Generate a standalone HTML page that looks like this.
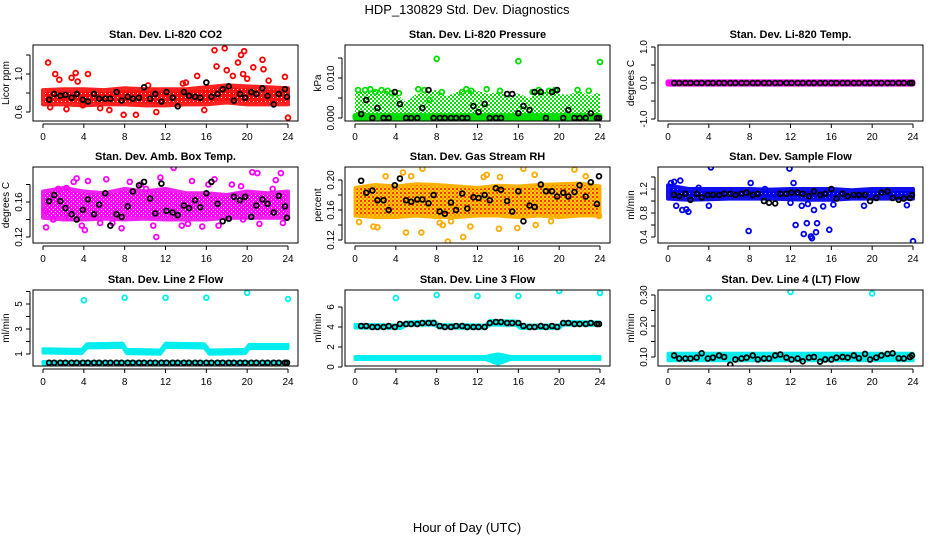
<!DOCTYPE html>
<html><head><meta charset="utf-8"><style>
html,body{margin:0;padding:0;background:#fff;}
svg{display:block;font-family:"Liberation Sans",Arial,sans-serif;}
</style></head><body>
<svg id="chart" width="936" height="540" viewBox="0 0 936 540" xmlns="http://www.w3.org/2000/svg">
<defs>
<pattern id="pat-red" width="4" height="4" patternUnits="userSpaceOnUse"><rect width="4" height="4" fill="#ff1010"/><rect x="1" y="1" width="1" height="1" fill="#fff"/></pattern>
<pattern id="pat-green" width="4" height="4" patternUnits="userSpaceOnUse"><rect width="4" height="4" fill="#fff"/><rect width="2" height="2" fill="#00dd00"/><rect x="2" y="2" width="2" height="2" fill="#00dd00"/></pattern>
<pattern id="pat-mag" width="4" height="4" patternUnits="userSpaceOnUse"><rect width="4" height="4" fill="#ff00ff"/><rect x="1" y="1" width="1" height="1" fill="#fff"/><rect x="3" y="3" width="1" height="1" fill="#fff"/></pattern>
<pattern id="pat-rh" width="4" height="4" patternUnits="userSpaceOnUse"><rect width="4" height="4" fill="#ffcc00"/><rect width="2" height="2" fill="#ff3300"/><rect x="2" y="2" width="2" height="2" fill="#ff9900"/></pattern>
<pattern id="pat-blue" width="4" height="4" patternUnits="userSpaceOnUse"><rect width="4" height="4" fill="#0000ee"/><rect x="1" y="1" width="1" height="1" fill="#8888ff"/></pattern>
</defs>
<rect x="0" y="0" width="936" height="540" fill="#fff"/>
<text x="467" y="14" text-anchor="middle" font-size="13">HDP_130829  Std. Dev. Diagnostics</text>
<text x="467" y="532" text-anchor="middle" font-size="13">Hour of Day (UTC)</text>
</svg>
<script>
const blackHours=[0.6,1.1,1.7,2.2,2.8,3.3,3.9,4.4,5.0,5.5,6.1,6.6,7.2,7.7,8.3,8.8,9.4,9.9,10.5,11.0,11.6,12.1,12.7,13.2,13.8,14.3,14.9,15.4,16.0,16.5,17.1,17.6,18.2,18.7,19.3,19.8,20.4,20.9,21.5,22.0,22.6,23.1,23.7,23.9];
const xTicks=[0,4,8,12,16,20,24];

const co2BandHours=[0,2,4,6,8,10,12,14,16,18,20,22,24];
const co2BandLo=[0.68,0.68,0.67,0.68,0.68,0.67,0.67,0.68,0.68,0.70,0.68,0.68,0.68];
const co2BandHi=[0.83,0.84,0.84,0.83,0.85,0.84,0.84,0.84,0.86,0.88,0.87,0.86,0.85];
const co2OutHours=[0.5,0.7,1.2,1.6,2.3,2.8,3.2,3.9,4.4,6.5,7.9,9.1,11.1,13.7,15.1,15.8,16.8,17.0,17.8,18.0,18.6,19.1,19.4,19.6,19.7,20.0,20.6,21.5,21.6,22.1,23.7,24.0,5.6,10.3,3.4,14.0];
const co2OutVals=[1.12,0.65,1.0,0.94,0.63,0.96,1.01,0.67,1.0,0.62,0.57,0.57,0.6,0.9,0.98,0.62,1.25,1.08,1.27,1.04,0.98,1.12,1.2,1.0,1.24,0.95,1.07,1.15,1.05,0.93,0.97,0.54,0.64,0.88,0.92,0.91];
const co2Black=[.73,.79,.77,.78,.75,.79,.73,.71,.79,.74,.74,.74,.81,.72,.76,.74,.75,.86,.74,.79,.71,.81,.75,.66,.81,.77,.76,.75,.91,.76,.79,.84,.87,.72,.79,.75,.81,.79,.85,.77,.68,.79,.84,.76];

const presBandHours=[0,24];
const presBandLo=[0,0];
const presBandHi=[0.0006,0.0006];
const presCloudHours=[0,2,3,4,5,6,7,8,9,10,11,12,13,14,15,16,17,18,19,20,21,22,23,24];
const presCloudLo=[0,0,0,0,0,0,0,0,0,0,0,0,0,0,0,0,0,0,0,0,0,0,0,0];
const presCloudHi=[0.0065,0.007,0.0068,0.0062,0.004,0.006,0.0068,0.007,0.0055,0.0065,0.007,0.0068,0.006,0.0065,0.0055,0.0062,0.005,0.0065,0.0068,0.006,0.0058,0.0068,0.0055,0.0065];
const presOutHours=[8.0,16.0,24.0,0.3,1.0,1.5,2.0,2.6,3.2,3.6,4.3,6.2,6.8,7.3,8.5,10.5,10.9,11.4,12.9,14.2,17.4,18.0,19.0,19.6,21.8,22.9];
const presOutVals=[0.0148,0.0142,0.0140,0.0070,0.0070,0.0072,0.0065,0.0070,0.0068,0.0062,0.0062,0.0072,0.0070,0.0045,0.0065,0.0065,0.0072,0.0068,0.0072,0.0068,0.0065,0.0070,0.0068,0.0070,0.0070,0.0068];
const presBlack=[0.001,0.0045,0,0.0025,0,0,0.0065,0.0035,0,0,0,0.0025,0.007,0,0,0,0,0,0,0,0.003,0.0015,0.0035,0,0,0,0.006,0.006,0.0012,0.003,0.002,0.0065,0.0065,0,0.0065,0.007,0,0.002,0,0,0,0.0012,0,0];

const tempBandHours=[0,24];
const tempBandLo=[-0.03,-0.03];
const tempBandHi=[0.03,0.03];
const tempOutHours=[];
const tempOutVals=[];
const tempBlack=[0,0,0,0,0,0,0,0,0,0,0,0,0,0,0,0,0,0,0,0,0,0,0,0,0,0,0,0,0,0,0,0,0,0,0,0,0,0,0,0,0,0,0,0];

const ambBandHours=[0,2,4,6,8,10,12,14,16,18,20,22,24];
const ambBandLo=[.142,.140,.140,.141,.140,.141,.140,.140,.140,.142,.142,.142,.142];
const ambBandHi=[.172,.176,.172,.170,.175,.172,.175,.170,.170,.168,.172,.170,.172];
const ambOutHours=[0.2,0.3,1.0,1.5,2.3,2.5,3.0,3.3,3.8,4.1,4.4,5.6,6.2,6.8,7.7,8.5,9.0,9.6,10.1,10.8,11.1,11.5,12.8,13.6,14.2,14.6,15.6,16.2,16.8,17.2,18.5,19.4,19.6,20.5,21.0,21.2,22.5,22.8,23.3,23.5];
const ambOutVals=[0.15,0.131,0.14,0.175,0.176,0.142,0.183,0.187,0.133,0.128,0.184,0.136,0.186,0.136,0.13,0.183,0.108,0.18,0.175,0.133,0.12,0.188,0.199,0.133,0.135,0.184,0.132,0.180,0.186,0.133,0.18,0.178,0.14,0.194,0.193,0.135,0.175,0.185,0.193,0.136];
const ambBlack=[.161,.168,.161,.153,.146,.140,.151,.163,.146,.157,.170,.133,.146,.143,.155,.172,.179,.183,.164,.147,.181,.150,.148,.145,.156,.153,.162,.154,.170,.183,.158,.138,.141,.166,.162,.166,.143,.156,.163,.158,.148,.167,.155,.142];

const rhBandHours=[0,2,4,6,8,10,12,14,16,18,20,22,24];
const rhBandLo=[.152,.150,.150,.152,.150,.150,.152,.152,.150,.152,.150,.152,.152];
const rhBandHi=[.190,.194,.192,.195,.194,.192,.190,.193,.192,.194,.195,.196,.192];
const rhOutHours=[0.4,1.8,2.2,3.0,4.7,5.0,5.5,6.5,6.6,8.3,9.1,9.4,10.6,11.3,12.6,14.1,14.2,15.9,16.5,17.6,17.7,19.2,21.5,22.6,23.9,12.9,8.6];
const rhOutVals=[.144,.138,.137,.205,.21,.13,.205,.13,.215,.143,.118,.145,.124,.138,.204,.135,.204,.136,.215,.207,.14,.145,.214,.205,.152,.207,.14];
const rhBlack=[.199,.183,.186,.173,.173,.160,.193,.202,.173,.171,.174,.174,.169,.180,.158,.155,.170,.160,.182,.162,.177,.176,.180,.173,.189,.187,.172,.158,.185,.145,.166,.164,.194,.185,.185,.178,.183,.178,.184,.193,.178,.197,.168,.205];

const sfBandHours=[0,2,4,6,8,10,12,14,16,18,20,22,24];
const sfBandLo=[1.04,1.02,1.03,1.04,1.04,1.04,1.03,1.02,1.02,1.04,1.04,1.04,1.04];
const sfBandHi=[1.26,1.20,1.20,1.20,1.20,1.19,1.20,1.20,1.20,1.18,1.20,1.20,1.20];
const sfOutHours=[0.3,0.6,0.8,1.2,1.4,1.8,2.0,4.0,4.2,7.9,8.1,11.9,12.0,12.3,12.5,13.1,13.3,13.6,13.7,14.0,14.1,14.3,14.5,14.6,15.2,15.8,16.2,19.2,23.4,24.0,3.0,9.5];
const sfOutVals=[1.3,1.32,0.92,1.34,0.85,0.86,0.82,0.92,1.56,0.5,1.3,1.54,0.97,1.3,0.6,0.92,0.45,0.63,0.95,0.41,0.38,0.85,0.48,0.63,0.91,0.52,0.94,0.92,0.93,0.33,1.22,1.2];
const sfBlack=[1.10,1.08,1.12,1.02,1.12,1.06,1.10,1.10,1.10,1.12,1.12,1.10,1.12,1.14,1.10,1.12,1.00,0.97,0.96,1.12,1.12,1.14,1.14,1.12,1.08,1.16,1.10,1.12,1.20,1.04,1.12,1.08,1.10,1.10,1.10,1.00,1.05,1.14,1.16,1.05,1.02,1.04,1.05,1.10];

const l2BandHours=[0,3.8,4.3,7.8,8.2,11.5,12,15.8,16.3,19.8,20.2,24];
const l2BandLo=[1.08,1.03,1.48,1.53,1.03,0.98,1.53,1.48,0.98,1.03,1.43,1.43];
const l2BandHi=[1.42,1.37,1.82,1.87,1.37,1.32,1.87,1.82,1.32,1.37,1.77,1.77];
const l2LowHours=[0,24];
const l2LowLo=[0.2,0.2];
const l2LowHi=[0.4,0.4];
const l2OutHours=[4,8,12,16,20,24];
const l2OutVals=[5.3,5.5,5.5,5.5,5.9,5.4];
const l2Black=[0.3,0.3,0.3,0.3,0.3,0.3,0.3,0.3,0.3,0.3,0.3,0.3,0.3,0.3,0.3,0.3,0.3,0.3,0.3,0.3,0.3,0.3,0.3,0.3,0.3,0.3,0.3,0.3,0.3,0.3,0.3,0.3,0.3,0.3,0.3,0.3,0.3,0.3,0.3,0.3,0.3,0.3,0.3,0.3];

const l3BandHours=[0,4.5,5,7.8,8.2,12.8,13.2,15.8,16.2,20,20.4,24];
const l3BandLo=[3.9,3.85,4.15,4.2,3.9,3.85,4.2,4.15,3.85,3.85,4.2,4.15];
const l3BandHi=[4.25,4.2,4.5,4.6,4.25,4.2,4.65,4.6,4.2,4.2,4.55,4.5];
const l3LowHours=[0,12.8,13.4,14.0,14.6,15.2,24];
const l3LowLo=[0.75,0.75,0.5,0.3,0.5,0.75,0.75];
const l3LowHi=[1.05,1.05,1.2,1.3,1.2,1.05,1.05];
const l3OutHours=[4,8,12,16,20,24];
const l3OutVals=[6.9,7.2,7.1,7.1,7.6,7.4];
const l3Black=[4.1,4.1,4.0,4.0,4.0,4.1,4.0,4.3,4.3,4.3,4.3,4.4,4.4,4.4,4.1,4.0,4.0,4.1,4.1,4.0,4.0,4.0,4.0,4.4,4.5,4.5,4.4,4.4,4.4,4.1,4.0,4.0,4.1,4.0,4.1,4.0,4.4,4.4,4.3,4.3,4.3,4.4,4.3,4.3];

const l4BandHours=[0,24];
const l4BandLo=[0.088,0.088];
const l4BandHi=[0.112,0.112];
const l4OutHours=[4,12,20];
const l4OutVals=[0.29,0.31,0.305];
const l4Black=[.105,.095,.095,.095,.098,.112,.095,.098,.105,.100,.075,.092,.095,.098,.105,.092,.095,.095,.105,.108,.098,.092,.095,.086,.098,.100,.085,.092,.092,.098,.100,.098,.105,.096,.110,.092,.098,.105,.110,.112,.096,.095,.100,.105];

const NS="http://www.w3.org/2000/svg";
const svg=document.getElementById('chart');
function mk(tag,attrs,parent){const e=document.createElementNS(NS,tag);for(const k in attrs)e.setAttribute(k,attrs[k]);(parent||svg).appendChild(e);return e;}

function panel(p){
  const g=mk('g',{});
  
  
  const L=p.left,R=p.left+265,T=p.top,B=p.top+76;
  const xs=h=>L+10+h*(245/24);
  const ys=v=>p.y0px+(v-p.y0)*(p.y1px-p.y0px)/(p.y1-p.y0);
  const t=mk('text',{x:(L+R)/2,y:T-7,'text-anchor':'middle','font-size':11,'font-weight':'bold'},g);
  t.textContent=p.title;
  
  
  const clip='clip-'+p.name;
  const cp=mk('clipPath',{id:clip},g);mk('rect',{x:L,y:T,width:265,height:76},cp);
  const pg=mk('g',{'clip-path':'url(#'+clip+')'},g);
  p.bands.forEach(b=>{
    let pts=[];
    for(let i=0;i<b.h.length;i++)pts.push(xs(b.h[i])+','+ys(b.hi[i]));
    for(let i=b.h.length-1;i>=0;i--)pts.push(xs(b.h[i])+','+ys(b.lo[i]));
    const poly=mk('polygon',{points:pts.join(' '),fill:b.fill,stroke:b.stroke,'stroke-width':b.sw||5,'stroke-linejoin':'round'},pg);
    
    
  });
  for(let i=0;i<p.outH.length;i++){
    const c=mk('circle',{cx:xs(p.outH[i]),cy:ys(p.outV[i]),r:2.4,fill:'none',stroke:p.color,'stroke-width':1.8},pg);
    
    
  }
  const n=Math.min(blackHours.length,p.black.length);
  for(let i=0;i<n;i++){
    const c=mk('circle',{cx:xs(blackHours[i]),cy:ys(p.black[i]),r:2.4,fill:'none',stroke:'#000','stroke-width':1.8},pg);
    
    
  }
  const box=mk('rect',{x:L,y:T,width:265,height:76,fill:'none',stroke:'#000','stroke-width':1},g);
  
  
  mk('line',{x1:xs(0),x2:xs(24),y1:B+3,y2:B+3,stroke:'#000'},g);
  xTicks.forEach(v=>{
    mk('line',{x1:xs(v),x2:xs(v),y1:B+3,y2:B+7,stroke:'#000'},g);
    const tl=mk('text',{x:xs(v),y:B+19,'text-anchor':'middle','font-size':10},g);
    tl.textContent=v;
    
    
  });
  const yt=p.yTicks;
  mk('line',{x1:L-3,x2:L-3,y1:ys(yt[0]),y2:ys(yt[yt.length-1]),stroke:'#000'},g);
  yt.forEach(v=>{
    mk('line',{x1:L-7,x2:L-3,y1:ys(v),y2:ys(v),stroke:'#000'},g);
  });
  p.yLabels.forEach(v=>{
    const yy=ys(v);
    const tl=mk('text',{x:L-11,y:yy,'text-anchor':'middle','font-size':10,transform:'rotate(-90 '+(L-11)+' '+yy+')'},g);
    tl.textContent=p.fmt(v);
    
    
  });
  const cy=(T+B)/2;
  const yl=mk('text',{x:L-24,y:cy,'text-anchor':'middle','font-size':10,transform:'rotate(-90 '+(L-24)+' '+cy+')'},g);
  yl.textContent=p.ylab;
  
  
}
const f1=v=>v.toFixed(1),f2=v=>v.toFixed(2),f3=v=>v.toFixed(3),f0=v=>String(v);
panel({name:'panel-co2',title:'Stan. Dev. Li-820 CO2',left:33,top:45,ylab:'Licor ppm',y0:0.6,y0px:112,y1:1.0,y1px:74,yTicks:[0.6,0.8,1.0,1.2],yLabels:[0.6,1.0],fmt:f1,color:'#ff0000',
 bands:[{h:co2BandHours,lo:co2BandLo,hi:co2BandHi,fill:'url(#pat-red)',stroke:'#ff2020',sw:4}],outH:co2OutHours,outV:co2OutVals,black:co2Black});
panel({name:'panel-pressure',title:'Stan. Dev. Li-820 Pressure',left:345,top:45,ylab:'kPa',y0:0,y0px:118,y1:0.01,y1px:78,yTicks:[0,0.005,0.01,0.015],yLabels:[0,0.01],fmt:f3,color:'#00dd00',
 bands:[{h:presCloudHours,lo:presCloudLo,hi:presCloudHi,fill:'url(#pat-green)',stroke:'none',sw:0},{h:presBandHours,lo:presBandLo,hi:presBandHi,fill:'#00dd00',stroke:'#00dd00'}],outH:presOutHours,outV:presOutVals,black:presBlack});
panel({name:'panel-li820-temp',title:'Stan. Dev. Li-820 Temp.',left:658,top:45,ylab:'degrees C',y0:-1,y0px:119,y1:1,y1px:47,yTicks:[-1,-0.5,0,0.5,1],yLabels:[-1,0,1],fmt:f1,color:'#ff00ff',
 bands:[{h:tempBandHours,lo:tempBandLo,hi:tempBandHi,fill:'#ff00ff',stroke:'#ff00ff'}],outH:tempOutHours,outV:tempOutVals,black:tempBlack});
panel({name:'panel-amb-box-temp',title:'Stan. Dev. Amb. Box Temp.',left:33,top:167,ylab:'degrees C',y0:0.12,y0px:237,y1:0.16,y1px:202,yTicks:[0.12,0.14,0.16,0.18],yLabels:[0.12,0.16],fmt:f2,color:'#ff00ff',
 bands:[{h:ambBandHours,lo:ambBandLo,hi:ambBandHi,fill:'url(#pat-mag)',stroke:'#f020f0',sw:4}],outH:ambOutHours,outV:ambOutVals,black:ambBlack});
panel({name:'panel-gas-rh',title:'Stan. Dev. Gas Stream RH',left:345,top:167,ylab:'percent',y0:0.12,y0px:240,y1:0.2,y1px:180,yTicks:[0.12,0.14,0.16,0.18,0.2],yLabels:[0.12,0.16,0.2],fmt:f2,color:'#ffaa00',
 bands:[{h:rhBandHours,lo:rhBandLo,hi:rhBandHi,fill:'url(#pat-rh)',stroke:'#ffb000',sw:3}],outH:rhOutHours,outV:rhOutVals,black:rhBlack});
panel({name:'panel-sample-flow',title:'Stan. Dev. Sample Flow',left:658,top:167,ylab:'ml/min',y0:0.4,y0px:237,y1:1.2,y1px:189,yTicks:[0.4,0.6,0.8,1.0,1.2,1.4],yLabels:[0.4,0.8,1.2],fmt:f1,color:'#0000ee',
 bands:[{h:sfBandHours,lo:sfBandLo,hi:sfBandHi,fill:'url(#pat-blue)',stroke:'#1010ee',sw:4}],outH:sfOutHours,outV:sfOutVals,black:sfBlack});
panel({name:'panel-line2-flow',title:'Stan. Dev. Line 2 Flow',left:33,top:290,ylab:'ml/min',y0:1,y0px:354,y1:5,y1px:304,yTicks:[1,2,3,4,5,6],yLabels:[1,3,5],fmt:f0,color:'#00eeee',
 bands:[{h:l2BandHours,lo:l2BandLo,hi:l2BandHi,fill:'#00eeee',stroke:'#00eeee',sw:3},{h:l2LowHours,lo:l2LowLo,hi:l2LowHi,fill:'#00eeee',stroke:'#00eeee',sw:3}],outH:l2OutHours,outV:l2OutVals,black:l2Black});
panel({name:'panel-line3-flow',title:'Stan. Dev. Line 3 Flow',left:345,top:290,ylab:'ml/min',y0:0,y0px:367,y1:4,y1px:327,yTicks:[0,2,4,6],yLabels:[0,2,4,6],fmt:f0,color:'#00eeee',
 bands:[{h:l3BandHours,lo:l3BandLo,hi:l3BandHi,fill:'#00eeee',stroke:'#00eeee',sw:3},{h:l3LowHours,lo:l3LowLo,hi:l3LowHi,fill:'#00eeee',stroke:'#00eeee',sw:3}],outH:l3OutHours,outV:l3OutVals,black:l3Black});
panel({name:'panel-line4-flow',title:'Stan. Dev. Line 4 (LT) Flow',left:658,top:290,ylab:'ml/min',y0:0.1,y0px:357,y1:0.3,y1px:295,yTicks:[0.1,0.15,0.2,0.25,0.3],yLabels:[0.1,0.2,0.3],fmt:f2,color:'#00eeee',
 bands:[{h:l4BandHours,lo:l4BandLo,hi:l4BandHi,fill:'#00eeee',stroke:'#00eeee',sw:3}],outH:l4OutHours,outV:l4OutVals,black:l4Black});
</script>
</body></html>
